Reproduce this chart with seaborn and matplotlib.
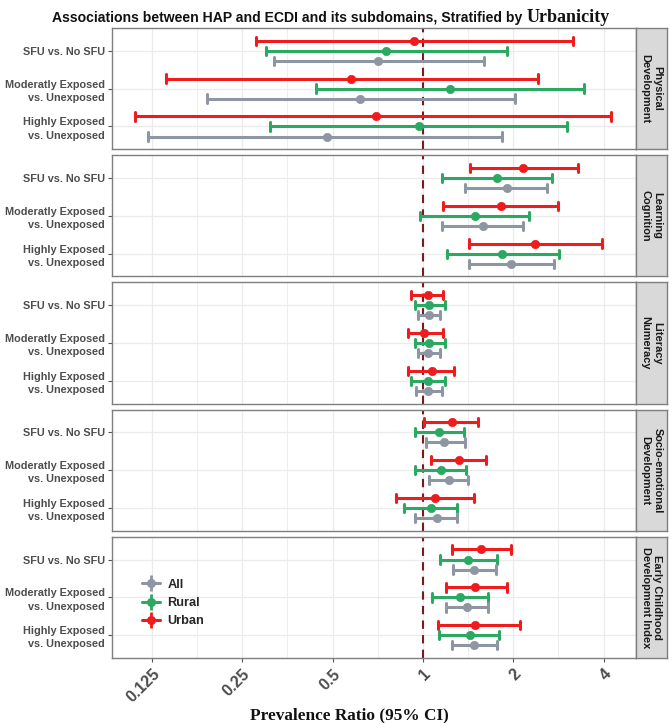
import numpy as np
import pandas as pd
import matplotlib
matplotlib.use("Agg")
import matplotlib.pyplot as plt
import seaborn as sns
from matplotlib.lines import Line2D
from matplotlib.legend_handler import HandlerTuple
from matplotlib.ticker import FixedLocator, NullFormatter

# ---------------- data ----------------
domains = ["Physical\nDevelopment", "Learning\nCognition", "Literacy\nNumeracy",
           "Socio-emotional\nDevelopment", "Early Childhood\nDevelopment Index"]
comparisons = ["SFU vs. No SFU", "Moderatly Exposed\nvs. Unexposed", "Highly Exposed\nvs. Unexposed"]
groups = ["All", "Rural", "Urban"]

# rows: domains; columns: comparisons
all_est = [[0.708, 0.619, 0.480], [1.90, 1.59, 1.97], [1.05, 1.04, 1.04], [1.18, 1.22, 1.11], [1.48, 1.40, 1.48]]
all_lo = [[0.319, 0.191, 0.121], [1.38, 1.155, 1.42], [0.96, 0.96, 0.946], [1.02, 1.05, 0.938], [1.26, 1.19, 1.25]]
all_hi = [[1.60, 2.02, 1.84], [2.60, 2.15, 2.74], [1.14, 1.14, 1.16], [1.38, 1.41, 1.30], [1.75, 1.65, 1.76]]

rural_est = [[0.751, 1.23, 0.968], [1.77, 1.49, 1.84], [1.05, 1.05, 1.04], [1.13, 1.15, 1.06], [1.41, 1.33, 1.43]]
rural_lo = [[0.300, 0.439, 0.310], [1.155, 0.977, 1.20], [0.938, 0.938, 0.915], [0.938, 0.943, 0.865], [1.14, 1.07, 1.13]]
rural_hi = [[1.91, 3.44, 3.01], [2.69, 2.26, 2.85], [1.185, 1.185, 1.185], [1.37, 1.39, 1.30], [1.76, 1.65, 1.79]]

urban_est = [[0.933, 0.578, 0.699], [2.16, 1.82, 2.36], [1.04, 1.01, 1.07], [1.25, 1.32, 1.10], [1.56, 1.49, 1.49]]
urban_lo = [[0.278, 0.139, 0.110], [1.43, 1.17, 1.42], [0.915, 0.895, 0.895], [1.01, 1.06, 0.816], [1.25, 1.19, 1.12]]
urban_hi = [[3.17, 2.42, 4.24], [3.29, 2.82, 3.95], [1.17, 1.17, 1.27], [1.53, 1.62, 1.48], [1.96, 1.90, 2.10]]

x_ticks = [0.125, 0.25, 0.5, 1, 2, 4]
x_tick_labels = ["0.125", "0.25", "0.5", "1", "2", "4"]

# ---------------- long table ----------------
series = {"All": (all_est, all_lo, all_hi),
          "Rural": (rural_est, rural_lo, rural_hi),
          "Urban": (urban_est, urban_lo, urban_hi)}
rows = []
for g, (est, lo, hi) in series.items():
    for di, dom in enumerate(domains):
        for ci, comp in enumerate(comparisons):
            for v in (lo[di][ci], est[di][ci], hi[di][ci]):
                rows.append(dict(domain=dom, comparison=comp, group=g, value=v))
df = pd.DataFrame(rows)

palette = {"All": "#8D96A2", "Rural": "#2BA862", "Urban": "#EE1C1C"}

sns.set_theme(style="white")
plt.rcParams['font.family'] = ['Liberation Sans', 'DejaVu Sans']

W, H = 672, 723
fig = plt.figure(figsize=(W / 100, H / 100), dpi=100)
L, R = 112 / W, 636 / W
top_px, bot_px, gap = 28, 658, 6
h = (bot_px - top_px - 4 * gap) / 5
minor = [0.125 * np.sqrt(2) * 2 ** k for k in range(5)]
axes = []
for i, dom in enumerate(domains):
    y0 = top_px + i * (h + gap)
    ax = fig.add_axes([L, 1 - (y0 + h) / H, R - L, h / H])
    axes.append(ax)
    sub = df[df.domain == dom]
    ax.grid(False)
    sns.pointplot(data=sub, x="value", y="comparison", hue="group", order=comparisons,
                  hue_order=["Urban", "Rural", "All"], palette=palette,
                  estimator="median", errorbar=("pi", 100), dodge=0.53,
                  linestyle="none", capsize=0.22, log_scale=2, markersize=6,
                  markeredgewidth=0.5,
                  err_kws={"linewidth": 2.2}, legend=False, ax=ax, orient="h", zorder=3)
    ax.axvline(1, color="#7A1A1A", ls=(0, (4, 3)), lw=1.5, zorder=2)
    ax.set_xlim(0.092, 5.13)
    ax.set_ylim(2.6, -0.6)
    ax.xaxis.set_major_locator(FixedLocator(x_ticks))
    ax.xaxis.set_minor_locator(FixedLocator(minor))
    ax.xaxis.set_minor_formatter(NullFormatter())
    ax.grid(True, which="major", axis="both", color="#EBEBEB", lw=0.9, zorder=0)
    ax.grid(True, which="minor", axis="x", color="#EBEBEB", lw=0.6, zorder=0)
    ax.set_axisbelow(True)
    ax.set_yticks([0, 1, 2])
    ax.set_yticklabels(comparisons)
    for t in ax.get_yticklabels():
        t.set_fontsize(7.8)
        t.set_fontweight("bold")
        t.set_color("#4D4D4D")
        t.set_linespacing(1.4)
        t.set_multialignment("right")
    ax.tick_params(axis="y", which="major", left=True, length=3, width=0.8, color="#555555", pad=2)
    ax.tick_params(axis="x", which="minor", bottom=False)
    if i < 4:
        ax.tick_params(axis="x", which="major", bottom=False, labelbottom=False)
    else:
        ax.set_xticklabels(x_tick_labels)
        ax.tick_params(axis="x", which="major", bottom=True, length=3, width=0.8,
                       color="#555555", labelsize=11.5, labelcolor="#4D4D4D", pad=3)
        for t in ax.get_xticklabels():
            t.set_rotation(45)
            t.set_ha("right")
            t.set_va("top")
            t.set_rotation_mode("anchor")
            t.set_fontweight("bold")
    ax.set_xlabel("")
    ax.set_ylabel("")
    for s in ax.spines.values():
        s.set_color("#7F7F7F")
        s.set_linewidth(1.0)
    # strip
    sax = fig.add_axes([R, 1 - (y0 + h) / H, 31 / W, h / H])
    sax.set_facecolor("#D9D9D9")
    sax.set_xticks([])
    sax.set_yticks([])
    for s in sax.spines.values():
        s.set_color("#7F7F7F")
        s.set_linewidth(1.0)
    sax.text(0.5, 0.5, dom, rotation=270, ha="center", va="center", fontsize=7.9,
             fontweight="bold", color="#1A1A1A", transform=sax.transAxes, linespacing=1.2)

# legend in last panel
handles = []
for g in groups:
    c = palette[g]
    handles.append((Line2D([], [], color=c, lw=2.2, marker="o", ms=5.5),
                     Line2D([], [], color=c, lw=0, marker="|", ms=11, mew=2.0)))
axes[-1].legend(handles, groups, handler_map={tuple: HandlerTuple(ndivide=1)},
                loc="upper left", bbox_to_anchor=(0.035, 0.75), frameon=False,
                handlelength=1.4, labelspacing=0.5, handletextpad=0.6,
                prop={"weight": "bold", "size": 9.2})

# title (main part condensed sans, last word serif)
renderer = fig.canvas.get_renderer()
ty = 1 - 18 / H
t1 = fig.text(52 / W, ty, "Associations between HAP and ECDI and its subdomains, Stratified by ",
              fontsize=13, fontweight="bold", ha="left", va="center", color="#111111",
              family=["Liberation Sans Narrow", "Liberation Sans"])
bb = t1.get_window_extent(renderer=renderer)
target = 475
if bb.width > target:
    t1.set_fontsize(13 * target / bb.width)
bb = t1.get_window_extent(renderer=renderer)
t2 = fig.text(bb.x1 / W, ty, "Urbanicity", fontsize=13, fontweight="bold",
              family="Liberation Serif", ha="left", va="center", color="#111111")
bb2 = t2.get_window_extent(renderer=renderer)
if bb2.width > 88:
    t2.set_fontsize(13 * 88 / bb2.width)

fig.text(349 / W, 1 - 715 / H, "Prevalence Ratio (95% CI)", fontsize=12.4, fontweight="bold",
         family="Liberation Serif", ha="center", va="center", color="#111111")

fig.savefig("out.png", dpi=100)
